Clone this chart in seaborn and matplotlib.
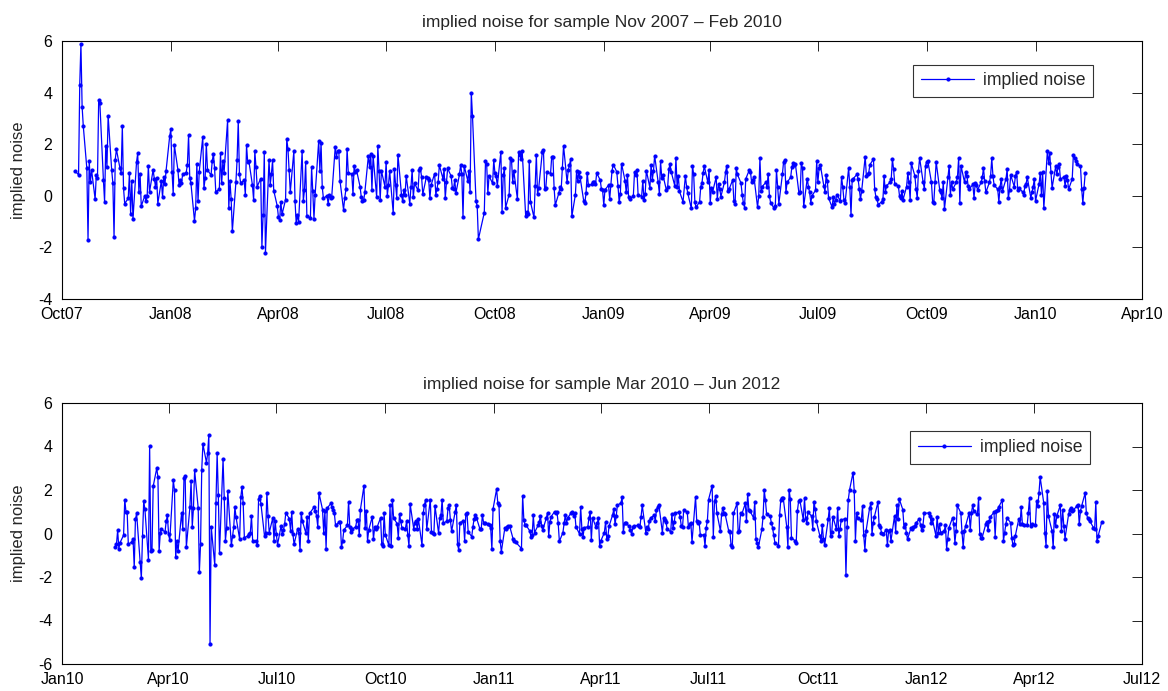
import numpy as np
import pandas as pd
import matplotlib
matplotlib.use("Agg")
import matplotlib.pyplot as plt
import matplotlib.dates as mdates
import seaborn as sns

# ---------------- data: implied noise, business-day series ----------------
# panel 1 (Nov 2007 - Feb 2010), split in segments with their start dates
top_seg1_start = "2007-10-12"
top_seg1 = [0.97, 0.81, 4.3, 5.9, 3.46, 2.7, 1.06, -1.7, 1.34, 0.54, 1.0, -0.13, 0.8, 0.7, 3.7, 3.6,
            0.62, -0.23, 1.94, 1.13, 3.1, 1.0, 0.5, -1.6, 1.4, 1.8, 1.07, 0.9, 2.7, 0.3, -0.3, -0.1,
            0.88, -0.7, 0.57, -0.9, 1.3, 1.65, 0.13, 0.86, -0.4, 0.0, -0.2, 0.0, 1.15, 0.15, 1.0, 0.67,
            0.36, 0.7, -0.3, 0.58, -0.06, 0.72, 0.44, 0.98, 2.3, 2.58, 0.94, 0.08, 1.96, 1.0, 0.4, 0.62,
            0.5, 0.83, 0.9, 1.2, 2.35, 0.7, 0.48, -0.97, -0.48, 1.24, -0.2, 0.93, 2.28, 0.3, 0.68, 2.0,
            1.0, 0.8, 1.34, 1.63, 1.06, 0.15, 0.26, 1.65, 0.48, 1.33, 0.9, 2.93, -0.49, 0.57, -0.14,
            -1.38, 0.52, 1.38, 2.9, 0.84, 0.5, 0.6, 0.03, 1.96, 1.3, 1.34, 0.41, -0.17, 1.74, 1.1, 0.36,
            0.67, -1.97, -0.74, 1.68, -2.2, 1.4, 0.43, 0.83, 1.37, 0.2, -0.4]
top_seg2_start = "2008-04-01"
top_seg2 = [-0.84, -0.93, -0.23, -0.72, -0.15, 2.19, 1.83, 0.99, 0.15, 1.73, -0.22, -1.07, -0.74, -1.0,
            1.73, -0.2, 0.22, 1.3, -0.77, -0.86, 1.11, 0.17, -0.88, 0.05, 2.13, 0.95, 2.06, 0.34, -0.1,
            0.0, -0.31, 0.05, -0.1, -0.05, 1.91, 1.52, 1.73, 1.74, 0.59, -0.54, -0.1, 0.25, 1.83, 0.9,
            0.83, 0.06, 1.16, 0.94, 0.99, 0.35, -0.05, -0.2, -0.18, 0.13, 1.55, 1.12, 1.61, 0.22, 1.55,
            -0.05, 1.94, 0.97, -0.15, 0.97, 0.36, 1.32, 0.01, 0.41, 0.95, -0.67, 1.03, 0.43, -0.08, 1.6,
            0.04, -0.22, 0.22, 0.03, 0.77, -0.31, 0.36, 0.99, -0.06, 0.48, 0.21, 1.0, 1.06, 0.72, 0.06,
            0.72, 0.68, 0.61, -0.09, 0.41, 0.86, 0.05, 0.26, 0.55, 1.19, 0.67, 1.03, -0.1, 0.52, 1.06,
            0.76, 0.3, 0.26, 0.62, 0.1, 0.83, 1.19, 0.85, -0.84, 1.16, 0.59, 0.98, 0.15, 4.0, 3.1,
            -0.19, -0.41, -1.68]
top_seg3_start = "2008-09-22"
top_seg3 = [-0.65, 1.34, 1.23, 0.1, 0.77, 0.48, 1.39, 0.88, 0.77, 0.39, 1.7, -0.62, 0.8, 1.07, -0.46,
            0.05, 1.45, 1.39, 0.55, 0.95, -0.13, 1.68, 1.6, 1.42, 1.75, -0.8, -0.61, -0.71, 1.34, -0.23,
            -0.84, 0.39, 1.59, 0.06, 0.3, 1.68, 1.78, 0.28, 0.3, 0.93, 0.86, 1.52, 1.52, 0.32, -0.36,
            0.1, 0.35, 0.25, 1.07, 1.94, 0.52, 1.0, 1.2, 1.42, -0.8, 0.04, 0.95, 0.59, 0.93, 0.72,
            -0.19, -0.26, 0.1, 0.9, 0.41, 0.44, 0.55, 0.52, 0.44, 0.88, 0.61, 0.26, 0.22, -0.36, 0.23,
            0.41, -0.13, 0.41, 0.98, 1.21, 0.93, 0.39, -0.23, 0.06, 1.25, 0.58, 0.13, 0.81, -0.06,
            -0.13, 0.0, 0.93, 0.8, 1.0, 0.05, -0.03, 0.59, -0.18, 0.08, 0.98, 0.31, 1.21, 0.62, 0.95,
            1.56, 0.52, 0.08, 1.34, 0.7, 0.8, 0.21, 0.34, 1.03, 1.23, 0.93, 0.39, 1.46, 0.36, 0.77,
            0.17, -0.23]
top_seg4_start = "2009-03-11"
top_seg4 = [0.77, 0.36, 0.1, -0.49, 1.16, 0.83, -0.23, -0.45, -0.23, 0.36, 0.49, 0.9, 1.14, 0.52, 1.0,
            -0.26, 0.31, 0.15, 0.72, -0.13, 0.46, 0.28, -0.03, 0.52, 0.93, 1.16, 0.18, 0.26, 0.62,
            -0.22, -0.31, 1.06, 0.83, 0.49, 0.05, -0.26, -0.46, 0.65, 1.0, 0.93, 0.52, 0.62, 0.72,
            -0.44, 0.0, 1.45, 0.18, 0.36, 0.52, 0.34, 0.86, 0.0, -0.26, -0.49, -0.41, 1.0, 0.36, -0.31,
            0.83, 1.32, 1.37, 0.15, 0.52, 0.72, 1.11, 1.26, 1.21, 1.23, 0.1, 0.13, 1.26, 1.08, -0.41,
            0.67, 0.36, 0.13, -0.26, 0.0, 0.21, 1.34, 0.52, 1.06, 1.21, 0.39, 0.15, 0.8, 0.57, -0.08,
            -0.44, -0.05, -0.31, -0.18, 0.05, -0.2, 0.72, 0.36, -0.15, -0.28, 1.08, 0.34, -0.75, 0.62,
            0.67, 0.83, 0.65, 0.26, -0.13, 0.18, 1.52, 0.77, 0.85, 0.9, 1.21, 1.42, 0.26, -0.03, -0.13,
            -0.34, -0.23, -0.13, 0.75, 0.13, 0.39, 0.52, 0.65]
top_seg5_start = "2009-09-02"
top_seg5 = [1.42, 1.03, 0.45, 0.39, 0.0, -0.1, 0.19, -0.15, 0.36, 0.88, 0.52, -0.15, 1.26, 0.77, 0.26,
            -0.08, 0.95, 1.47, 0.52, 0.28, 1.16, 1.32, 1.34, 0.52, -0.23, -0.26, 0.52, 1.32, 0.23,
            0.13, -0.1, 0.52, -0.52, 0.72, 1.16, 0.03, 0.52, 0.26, 0.52, 0.72, 1.47, -0.26, 1.16,
            0.52, 0.93, 0.77, 0.39, 0.26, 0.44, -0.08, 0.49, 0.41, 0.23, 0.52, 0.72, 1.08, 0.57, 0.13,
            0.52, 0.77, 1.45, 0.77, 0.41, 0.26, -0.23, 0.34, 0.67, 0.18, 0.65, 1.03, -0.1, 0.23, 0.8,
            0.36, 0.77, 0.93, 0.21, 0.31, 0.15, 0.03, 0.39, 0.46, 0.72, -0.08, 0.13, 0.36, 0.65, -0.2,
            0.46, 0.9, 0.03, 0.93, -0.49, 1.73, 1.29, 1.65, 0.93, 0.31, 1.14, 0.83, 1.11, 1.24, 0.65,
            0.72, 0.39, 0.75, 0.62, 0.26, 0.65, 1.6, 1.48, 1.34, 1.23, 1.14, 0.28, -0.28, 0.31, 0.9]

# panel 2 (Mar 2010 - Jun 2012)
bot_seg1_start = "2010-02-15"
bot_seg1 = [-0.63, -0.49, 0.15, -0.69, -0.42, -0.08, 1.56, 1.01, 1.01, -0.49, -0.39, -0.26, -1.56, 0.65,
            0.92, -1.3, -2.06, -0.11, 1.48, 1.13, -1.2, 4.02, -0.8, -0.75, 2.17, 3.0, 2.6, -0.8, 0.04,
            0.19, 0.07, 0.57, 0.83, -0.04, -0.31, 2.44, 1.99, -1.1, -0.36, -0.81, 0.95, 0.22, 2.53,
            2.65, -0.63, 1.2, 2.42, 0.31, 1.18, 2.9, 1.18, -1.76, -0.49, 2.93, 4.11, 3.26, 3.69, 4.54,
            -5.06, 0.31, -1.45, 1.41, 3.69, 1.77, -0.9, 3.41, 1.64, -0.33, 0.25, 1.96, -0.54, -0.11,
            0.28, 1.2, 0.74, -0.26, 1.68, 2.14, 1.38, -0.19, -0.11, -0.01, 0.01, 0.8, -0.33, -0.36,
            -0.51, 1.59, 1.74, 1.36, -0.11, 0.01, 1.86, 0.8, 0.04, 0.72, -0.33, 0.59, -0.04, -0.51,
            0.34, -0.01, 0.16, 0.43, 0.95, 0.68, 0.12, 0.98, -0.04, -0.49, 0.22, 0.04, -0.75, 0.92,
            0.57, 0.01, 0.77, -0.36, 0.92]
bot_seg2_start = "2010-08-02"
bot_seg2 = [1.22, 1.03, 0.8, 0.31, 1.86, 1.1, 0.04, 1.03, -0.69, 1.17, 1.38, 1.22, 1.1, 0.92, 0.37,
            0.53, 0.53, -0.64, -0.34, 0.16, 0.37, 1.47, 0.31, 0.07, 0.19, 0.31, 0.62, 0.62, -0.08, 1.1,
            2.2, 0.27, 1.03, -0.34, 0.16, 0.77, -0.26, 0.28, 0.19, 0.28, 0.72, -0.48, -0.57, 0.92,
            -0.05, -0.54, 1.29, -0.57, 1.56, 0.72, 0.45, -0.2, 0.9, 0.57, 0.27, 0.22, 0.57, -0.08,
            -0.57, 1.35, 0.22, 0.5, 0.57, 0.22, 0.65, -0.54, 0.92, 1.29, 1.56, 0.19, 1.56, 0.07, 0.01,
            -0.04, 1.26, 0.01, 0.72, 0.83, 1.56, 0.47, 0.57, 1.18, 1.29, 0.6, 0.1, 1.0, 1.33, -0.49,
            -0.75, 0.5, 0.57, -0.34, 0.88, 0.92, 0.07, -0.14, 0.31, 0.68, 0.83, 0.72, 0.19, 0.22, 0.83,
            0.5, 0.47, 0.42, 0.37, 0.27, -0.72, 1.13, 2.04, 1.41, 1.33, -0.34, -0.84, 0.27, 0.22, 0.31,
            0.34, 0.34, -0.26, -0.34, -0.39]
bot_seg3_start = "2011-01-24"
bot_seg3 = [-0.69, 1.74, 0.62, 0.4, 0.37, 0.12, -0.14, -0.08, 0.83, 0.04, 0.37, 0.53, 0.8, 0.34, 0.16,
            0.72, 0.95, -0.11, 0.53, 0.77, 1.01, 0.95, 0.98, 0.47, -0.36, 0.04, 0.47, 0.83, 0.47, 0.72,
            0.95, 1.01, 0.8, 0.95, 0.31, -0.02, 1.22, 0.22, -0.14, 0.27, 0.31, 0.72, 0.98, -0.3, 0.72,
            0.28, 0.47, 0.72, -0.57, -0.34, 0.04, 0.53, -0.23, -0.11, 0.34, 0.86, 1.13, 0.42, 0.8, 1.29,
            1.41, 1.68, 0.07, 0.47, 0.47, 0.34, 0.16, -0.02, 0.28, 0.34, 0.37, 0.34, 0.28, 0.77, 1.29,
            0.04, 0.31, 0.19, 0.57, 0.72, 0.83, 0.59, 1.1, 1.22, 1.33, 0.04, 0.71, 0.62, 0.53, 0.22,
            0.07, 0.88, 0.27, 0.53, 0.95, 0.98, 0.74, 0.34, 0.28, 1.1, 0.98, 0.28, 0.42, 0.5, -0.39,
            1.68, 0.57, 0.47, 0.53, -0.05, -0.08, -0.57, 0.27, 0.59, 1.56, 2.2, -0.14, 1.48, 1.71,
            0.95, 0.12, 0.88, 1.18]
bot_seg4_start = "2011-07-14"
bot_seg4 = [0.95, 0.88, 0.12, 0.07, -0.54, -0.64, 0.92, 1.38, 0.07, 0.12, 0.95, 0.88, 1.38, 0.57, 1.83,
            1.1, 1.03, 0.72, 1.47, -0.23, -0.45, -0.64, 0.19, 0.77, 1.99, 1.53, 0.88, 0.8, 0.5, 0.27,
            -0.08, -0.42, -0.57, 0.86, 1.56, 1.65, 1.65, 0.31, -0.64, 1.99, 1.59, -0.19, -0.34, -0.45,
            1.03, 1.48, 1.56, 0.62, 1.62, 0.71, 0.5, 0.98, 0.8, 0.22, 1.47, 1.13, 0.57, -0.11, -0.34,
            0.37, -0.23, -0.54, 0.65, 1.18, -0.11, 0.07, 0.77, 0.19, 1.18, -0.11, 0.22, 0.62, 0.68,
            -1.91, 0.31, 1.56, 1.99, 2.8, 1.95, -0.33, 0.95, 0.72, 0.62, 1.26, -0.08, -0.75, 0.12,
            1.18, 1.38, -0.02, 0.47, 0.77, 1.44, 0.37, 0.31, 0.04, -0.04, 0.16, -0.54, 0.12, 0.16,
            -0.34, 0.8, 0.07, 1.29, 0.65, 1.59, 1.1, 0.31, 0.42, 0.04, -0.26, 0.27, 0.19, 0.28, 0.34,
            0.47, 0.68, 0.37, 0.16, 0.34, 0.92]
bot_seg5_start = "2012-01-03"
bot_seg5 = [0.95, 0.8, 0.47, 0.65, -0.11, 0.77, 0.04, 0.42, 0.04, 0.12, 0.37, -0.69, -0.23, 0.27, 0.72,
            0.42, -0.42, 0.12, 1.29, 0.95, 0.07, -0.64, 0.12, 0.34, 0.95, 0.16, 0.95, 1.29, 1.03, 0.88,
            1.62, -0.04, -0.19, -0.19, 0.42, 0.53, 0.16, 0.57, 0.77, 0.98, -0.14, 1.03, 1.1, 1.22,
            1.53, -0.34, 0.04, 0.42, 0.72, 0.5, -0.19, -0.54, -0.49, -0.11, 0.68, 0.42, 1.22, 0.42,
            0.37, 0.37, 0.95, 1.62, 0.34, 0.42, 0.37, 1.48, 1.26, 1.86, 2.59, 1.41, 0.01, -0.57, 1.94,
            0.8, 0.12, -0.64, 0.88, 0.34, 0.8, 1.29, 0.12, 1.07, 0.34, -0.23, 0.88, 1.1, 1.18, 1.03,
            1.07, 1.26, 1.33, 0.42, 1.03, 1.26, 1.86, 0.95, 0.72, 0.68, 0.57, 0.27, 0.19, 1.44, -0.34,
            -0.11, 0.53]

titles = ["implied noise for sample Nov 2007 \u2013 Feb 2010",
          "implied noise for sample Mar 2010 \u2013 Jun 2012"]
ylabel = "implied noise"
legend_label = "implied noise"
top_xlim = ("2007-10-01", "2010-04-01")
bot_xlim = ("2010-01-01", "2012-07-01")
top_yticks = [-4, -2, 0, 2, 4, 6]
bot_yticks = [-6, -4, -2, 0, 2, 4, 6]


def build(segments):
    frames = []
    for start, vals in segments:
        d = pd.bdate_range(start=start, periods=len(vals))
        frames.append(pd.DataFrame({"date": d, "noise": vals}))
    return pd.concat(frames, ignore_index=True)


top_df = build([(top_seg1_start, top_seg1), (top_seg2_start, top_seg2), (top_seg3_start, top_seg3),
                (top_seg4_start, top_seg4), (top_seg5_start, top_seg5)])
bot_df = build([(bot_seg1_start, bot_seg1), (bot_seg2_start, bot_seg2), (bot_seg3_start, bot_seg3),
                (bot_seg4_start, bot_seg4), (bot_seg5_start, bot_seg5)])

# ---------------- style ----------------
sns.set_theme(style="white")
plt.rcParams["font.family"] = ["Liberation Sans", "DejaVu Sans"]
plt.rcParams["axes.unicode_minus"] = False

W, H = 1168, 691
fig = plt.figure(figsize=(W / 100, H / 100), dpi=100)
ax_top = fig.add_axes([62 / W, 1 - 299 / H, 1080 / W, 258 / H])
ax_bot = fig.add_axes([62 / W, 1 - 664 / H, 1080 / W, 261 / H])

panels = [
    (ax_top, top_df, top_xlim, (-4, 6), top_yticks, titles[0], (0.963, 0.943)),
    (ax_bot, bot_df, bot_xlim, (-6, 6), bot_yticks, titles[1], (0.96, 0.927)),
]

for ax, df, xl, yl, yt, ttl, anchor in panels:
    sns.lineplot(data=df, x="date", y="noise", ax=ax, color="#0000ff", linewidth=0.9,
                 marker=".", markersize=4.5, markeredgecolor="#0000ff", markerfacecolor="#0000ff",
                 label=legend_label, sort=False, estimator=None)
    ax.set_xlim(pd.Timestamp(xl[0]), pd.Timestamp(xl[1]))
    ax.set_ylim(*yl)
    ax.set_yticks(yt)
    ax.xaxis.set_major_locator(mdates.MonthLocator(bymonth=[1, 4, 7, 10]))
    ax.xaxis.set_major_formatter(mdates.DateFormatter("%b%y"))
    ax.tick_params(direction="in", length=7.5, width=0.6, top=True, right=True,
                   labelsize=11.5, colors="black")
    ax.tick_params(axis="x", pad=6)
    ax.tick_params(axis="y", pad=7)
    for s in ax.spines.values():
        s.set_color("black")
        s.set_linewidth(0.8)
    ax.set_xlabel("")
    ax.set_ylabel(ylabel, fontsize=12)
    ax.yaxis.set_label_coords(-0.033, 0.5)
    ax.set_title(ttl, fontsize=12.5, pad=10)
    leg = ax.legend(loc="upper right", bbox_to_anchor=anchor, frameon=True, fancybox=False,
                    fontsize=12.7, handlelength=3.0, borderpad=0.45, handletextpad=0.5, numpoints=1)
    leg.get_frame().set_edgecolor("black")
    leg.get_frame().set_linewidth(0.8)

fig.savefig("out.png", dpi=100)
